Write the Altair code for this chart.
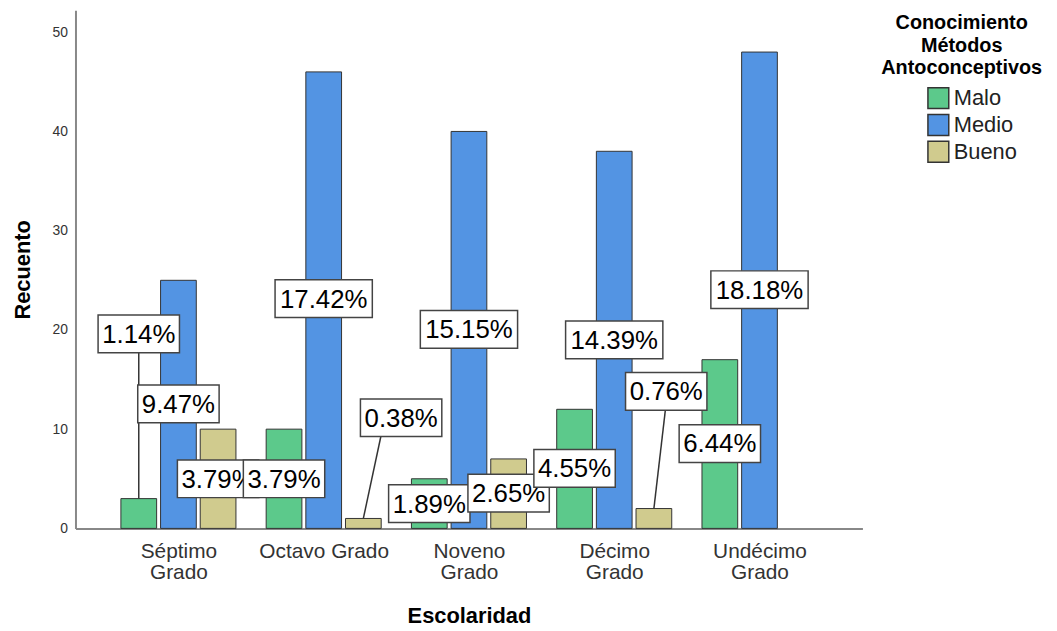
import json
import altair as alt
import pandas as pd

# ---------------- data ----------------
categories = ["Séptimo Grado", "Octavo Grado", "Noveno Grado", "Décimo Grado", "Undécimo Grado"]
tick_labels = [["Séptimo", "Grado"], ["Octavo Grado"], ["Noveno", "Grado"], ["Décimo", "Grado"], ["Undécimo", "Grado"]]
series = ["Malo", "Medio", "Bueno"]
colors = ["#5CC98B", "#5394E3", "#D0CB8E"]

malo = [3, 10, 5, 12, 17]
medio = [25, 46, 40, 38, 48]
bueno = [10, 1, 7, 2, 0]

# height (in counts) of each percentage label box centre
malo_label_y = [19.6, 5.0, 2.5, 6.05, 8.55]
medio_label_y = [12.55, 23.15, 20.05, 19.0, 24.05]
bueno_label_y = [5.0, 11.15, 3.55, 13.8, 0.0]
# sideways shift of a label (in category units)
malo_label_dx = [0, 0, 0, 0, 0]
medio_label_dx = [0, 0, 0, 0, 0]
bueno_label_dx = [0, 0.26, 0, 0.085, 0]
# leader lines: (category index, series, shift of the upper end in category units)
leaders = [(0, "Malo", 0.0), (1, "Bueno", 0.148), (3, "Bueno", 0.094)]

legend_title = ["Conocimiento", "Métodos", "Antoconceptivos"]
y_ticks = [0, 10, 20, 30, 40, 50]

# ---------------- table ----------------
series_pos = {"Malo": -0.273, "Medio": 0.0, "Bueno": 0.273}
values = {"Malo": malo, "Medio": medio, "Bueno": bueno}
label_y = {"Malo": malo_label_y, "Medio": medio_label_y, "Bueno": bueno_label_y}
label_dx = {"Malo": malo_label_dx, "Medio": medio_label_dx, "Bueno": bueno_label_dx}
total = sum(malo) + sum(medio) + sum(bueno)
lead = {(i, s): d for i, s, d in leaders}

rows = []
for s in series:
    for i, c in enumerate(categories):
        v = values[s][i]
        pct = f"{v / total * 100:.2f}%"
        x = i + series_pos[s]
        rows.append({
            "categoria": c,
            "serie": s,
            "count": v,
            "x": x,
            "pct": pct,
            "box": "short" if len(pct) <= 5 else "long",
            "label_x": x + label_dx[s][i],
            "label_y": label_y[s][i],
            "grp": "A" if i % 2 == 0 else "B",
            "has_lead": (i, s) in lead,
            "lead_x": x + lead.get((i, s), 0.0),
        })
df = pd.DataFrame(rows)

x_scale = alt.Scale(domain=[-0.6745, 4.6745], nice=False, zero=False)
y_scale = alt.Scale(domain=[0, 52.2], nice=False)

label_expr = json.dumps(tick_labels, ensure_ascii=False) + "[round(datum.value)]"

x_axis = alt.Axis(title="Escolaridad", values=[0, 1, 2, 3, 4], labelExpr=label_expr,
                  grid=False, ticks=False, tickSize=0, labelPadding=12,
                  labelFontSize=21, labelLineHeight=22, labelColor="#333333",
                  labelFont="Liberation Sans",
                  domainColor="#888888", domainWidth=2,
                  titleFontSize=22, titleFontWeight="bold", titleColor="#000000",
                  titleFont="Liberation Sans",
                  titleY=95, titleBaseline="alphabetic")
y_axis = alt.Axis(title="Recuento", values=y_ticks, grid=False, ticks=False, tickSize=0,
                  labelPadding=8, labelFontSize=14, labelColor="#333333",
                  labelFont="Liberation Sans",
                  domainColor="#888888", domainWidth=2,
                  titleFontSize=22, titleFontWeight="bold", titleColor="#000000",
                  titleFont="Liberation Sans",
                  titleX=-46, titleY=261, titleAngle=270, titleBaseline="alphabetic",
                  titleAlign="center")


def X(field):
    return alt.X(field, scale=x_scale, axis=x_axis, title="Escolaridad")


def Y(field):
    return alt.Y(field, scale=y_scale, axis=y_axis, title="Recuento")


base = alt.Chart(df)

bars = base.mark_bar(width=36, stroke="#333333", strokeWidth=1).encode(
    x=X("x:Q"),
    y=Y("count:Q"),
    color=alt.Color("serie:N", sort=series,
                    scale=alt.Scale(domain=series, range=colors),
                    legend=alt.Legend(title=legend_title, orient="none", legendX=812, legendY=3,
                                      padding=0,
                                      titleFontSize=20, titleFont="Liberation Sans",
                                      titleFontWeight="bold", titleColor="#000000",
                                      titleAlign="center", titleAnchor="middle",
                                      titleLineHeight=22.5, titlePadding=9,
                                      labelFontSize=22, labelFont="Liberation Sans",
                                      labelColor="#222222", labelOffset=4,
                                      symbolType="square", symbolSize=441,
                                      symbolStrokeWidth=1.5, symbolStrokeColor="#333333",
                                      symbolOffset=21, rowPadding=0)),
).transform_filter("datum.count > 0")

rules = base.mark_rule(color="#333333", strokeWidth=1.5).encode(
    x=X("x:Q"),
    x2="lead_x:Q",
    y=Y("count:Q"),
    y2="label_y:Q",
).transform_filter("datum.has_lead")

box_paths = [
    "M-0.82,-0.38L0.82,-0.38L0.82,0.38L-0.82,0.38Z",
    "M-0.98,-0.38L0.98,-0.38L0.98,0.38L-0.98,0.38Z",
]


def label_layers(grp):
    b = base.mark_point(filled=True, fill="white", stroke="#444444", strokeWidth=1.5,
                        opacity=1, size=10000).encode(
        x=X("label_x:Q"),
        y=Y("label_y:Q"),
        shape=alt.Shape("box:N", scale=alt.Scale(domain=["short", "long"], range=box_paths),
                        legend=None),
    ).transform_filter(f"datum.count > 0 && datum.grp == '{grp}'")
    t = base.mark_text(fontSize=26, font="Liberation Sans", color="#000000",
                       align="center", baseline="middle", dy=1).encode(
        x=X("label_x:Q"),
        y=Y("label_y:Q"),
        text="pct:N",
    ).transform_filter(f"datum.count > 0 && datum.grp == '{grp}'")
    return [b, t]


layers = [bars, rules] + label_layers("A") + label_layers("B")

chart = alt.layer(*layers).properties(
    width=793,
    height=522,
    autosize=alt.AutoSizeParams(type="none"),
    padding={"left": 68, "top": 0, "right": 188, "bottom": 100},
    background="white",
).configure(font="Liberation Sans").configure_view(stroke=None)

chart.save("out.html", embed_options={"renderer": "svg", "actions": False})
